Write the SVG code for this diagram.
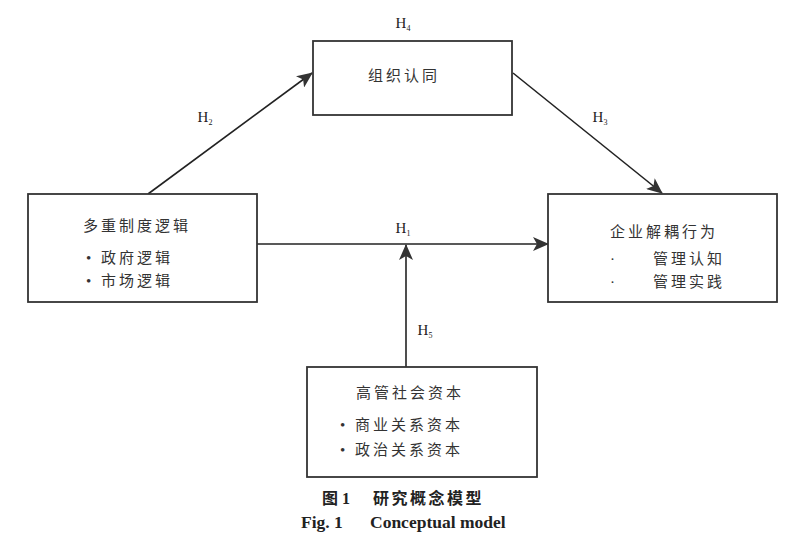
<svg xmlns="http://www.w3.org/2000/svg" width="800" height="543" viewBox="0 0 800 543">
<style>
.box{fill:#fff;stroke:#333;stroke-width:1.8}
.cn{font-family:"Liberation Serif","Noto Sans CJK SC",serif;font-size:15px;fill:#333;letter-spacing:3px}
.h{font-family:"Liberation Serif",serif;font-size:15px;fill:#222}
.sub{font-size:8px}
.edge{stroke:#222;stroke-width:1.6;fill:none;marker-end:url(#arr)}
.cap{font-family:"Liberation Serif","Noto Sans CJK SC",serif;font-weight:bold;fill:#222}
</style>
<defs>
<marker id="arr" markerWidth="16" markerHeight="14" refX="15" refY="7" orient="auto" markerUnits="userSpaceOnUse">
<path d="M0,0 L16,7 L0,14 L4,7 Z" fill="#333"/>
</marker>
</defs>
<rect width="800" height="543" fill="#fff"/>
<g id="connectors">
<line class="edge" x1="148" y1="194" x2="312" y2="73"/>
<line class="edge" x1="513" y1="73" x2="662" y2="193"/>
<line class="edge" x1="257" y1="244" x2="548" y2="244"/>
<line class="edge" x1="406" y1="367" x2="406" y2="245"/>
<text class="h" x="205" y="122" text-anchor="middle">H<tspan class="sub" dy="3">2</tspan></text>
<text class="h" x="600" y="122" text-anchor="middle">H<tspan class="sub" dy="3">3</tspan></text>
<text class="h" x="403" y="28" text-anchor="middle">H<tspan class="sub" dy="3">4</tspan></text>
<text class="h" x="403" y="233" text-anchor="middle">H<tspan class="sub" dy="3">1</tspan></text>
<text class="h" x="425" y="335" text-anchor="middle">H<tspan class="sub" dy="3">5</tspan></text>
</g>
<g id="node-identity">
<rect class="box" x="313" y="41" width="199" height="74"/>
<text class="cn" x="404" y="81" text-anchor="middle">组织认同</text>
</g>
<g id="node-logic">
<rect class="box" x="28" y="194" width="229" height="108"/>
<text class="cn" x="137" y="231" text-anchor="middle">多重制度逻辑</text>
<text class="cn" x="86" y="263">• 政府逻辑</text>
<text class="cn" x="86" y="286">• 市场逻辑</text>
</g>
<g id="node-decoupling">
<rect class="box" x="548" y="194" width="229" height="108"/>
<text class="cn" x="664" y="237" text-anchor="middle">企业解耦行为</text>
<text class="cn" x="610" y="264">·</text>
<text class="cn" x="653" y="264">管理认知</text>
<text class="cn" x="610" y="287">·</text>
<text class="cn" x="653" y="287">管理实践</text>
</g>
<g id="node-capital">
<rect class="box" x="307" y="367" width="230" height="110"/>
<text class="cn" x="410" y="398" text-anchor="middle">高管社会资本</text>
<text class="cn" x="340" y="430">• 商业关系资本</text>
<text class="cn" x="340" y="455">• 政治关系资本</text>
</g>
<g id="caption">
<text class="cap" x="322" y="504" font-size="16">图 1<tspan x="373" letter-spacing="2.5">研究概念模型</tspan></text>
<text class="cap" x="301" y="528" font-size="17.5">Fig. 1<tspan x="370">Conceptual model</tspan></text>
</g>
</svg>
